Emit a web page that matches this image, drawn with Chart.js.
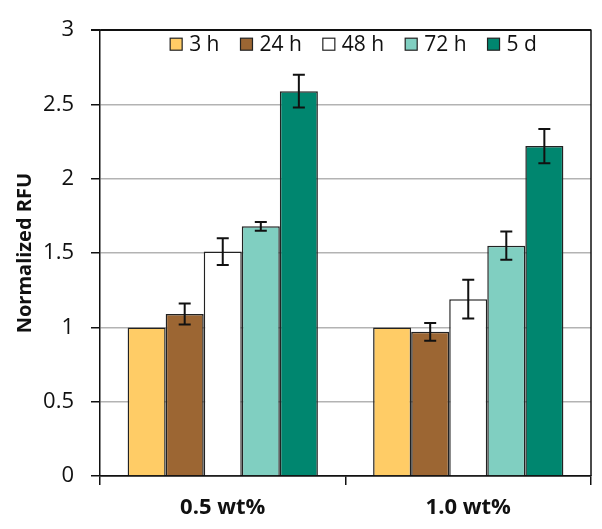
<!DOCTYPE html>
<html>
<head>
<meta charset="utf-8">
<script src="https://cdn.jsdelivr.net/npm/chart.js@4"></script>
<style>
  html, body { margin: 0; padding: 0; background: #fff; }
  canvas { display: block; }
</style>
</head>
<body>
<canvas id="rfuChart" width="602" height="529"></canvas>
<script>
// categories and series
const categories = ["0.5 wt%", "1.0 wt%"];
const seriesNames = ["3 h", "24 h", "48 h", "72 h", "5 d"];

// normalized RFU per series (one value per category)
const values3h = [1.0, 1.0];
const values24h = [1.09, 0.97];
const values48h = [1.51, 1.19];
const values72h = [1.68, 1.55];
const values5d = [2.59, 2.22];

// error bar half-widths
const err3h = [0, 0];
const err24h = [0.07, 0.06];
const err48h = [0.09, 0.13];
const err72h = [0.03, 0.095];
const err5d = [0.11, 0.115];

const yTicks = [0, 0.5, 1, 1.5, 2, 2.5, 3];

const seriesValues = [values3h, values24h, values48h, values72h, values5d];
const seriesErrors = [err3h, err24h, err48h, err72h, err5d];
const seriesColors = ["#FFCC66", "#9C6633", "#FFFFFF", "#80CFC1", "#00866F"];

const FONT = "'Open Sans', sans-serif";

// error bars drawn from the data through the y scale
const errorBars = {
  id: "errorBars",
  afterDatasetsDraw(chart) {
    const ctx = chart.ctx;
    const y = chart.scales.y;
    ctx.save();
    ctx.strokeStyle = "#111";
    ctx.lineWidth = 2;
    chart.data.datasets.forEach((ds, i) => {
      const meta = chart.getDatasetMeta(i);
      meta.data.forEach((bar, j) => {
        const e = seriesErrors[i][j];
        if (!e) return;
        const v = ds.data[j];
        const top = y.getPixelForValue(v + e);
        const bot = y.getPixelForValue(v - e);
        const cap = 6;
        ctx.beginPath();
        ctx.moveTo(bar.x, top); ctx.lineTo(bar.x, bot);
        ctx.moveTo(bar.x - cap, top); ctx.lineTo(bar.x + cap, top);
        ctx.moveTo(bar.x - cap, bot); ctx.lineTo(bar.x + cap, bot);
        ctx.stroke();
      });
    });
    ctx.restore();
  }
};

// top and right frame lines, plus the one-row legend inside the plot
const frame = {
  id: "frame",
  afterDraw(chart) {
    const a = chart.chartArea;
    const ctx = chart.ctx;
    ctx.save();
    ctx.strokeStyle = "#111";
    ctx.lineWidth = 1.5;
    ctx.beginPath();
    ctx.moveTo(a.left - 9, a.top);
    ctx.lineTo(a.right, a.top);
    ctx.lineTo(a.right, a.bottom);
    ctx.stroke();

    // legend row
    const box = 12, gap = 7, pad = 21;
    ctx.font = "21px " + FONT;
    ctx.textBaseline = "middle";
    const items = chart.data.datasets.map(ds => ({
      label: ds.label, color: ds.backgroundColor, w: ctx.measureText(ds.label).width
    }));
    let total = items.reduce((s, it) => s + box + gap + it.w, 0) + pad * (items.length - 1);
    let x = (a.left + a.right) / 2 + 8 - total / 2;
    const cy = a.top + 14;
    items.forEach(it => {
      ctx.fillStyle = it.color;
      ctx.fillRect(x, cy - box / 2, box, box);
      ctx.lineWidth = 1.2;
      ctx.strokeStyle = "#222";
      ctx.strokeRect(x, cy - box / 2, box, box);
      ctx.fillStyle = "#111";
      ctx.fillText(it.label, x + box + gap, cy + 1);
      x += box + gap + it.w + pad;
    });
    ctx.restore();
  }
};

new Chart(document.getElementById("rfuChart").getContext("2d"), {
  type: "bar",
  data: {
    labels: categories,
    datasets: seriesNames.map((name, i) => ({
      label: name,
      data: seriesValues[i],
      backgroundColor: seriesColors[i],
      borderColor: "#222",
      borderWidth: 1.5,
      barPercentage: 1,
      categoryPercentage: 0.775
    }))
  },
  options: {
    responsive: false,
    animation: false,
    devicePixelRatio: 1,
    layout: { padding: { top: 17, right: 11, left: 0, bottom: 0 } },
    plugins: {
      tooltip: { enabled: false },
      legend: { display: false }
    },
    scales: {
      x: {
        grid: {
          offset: true,
          drawOnChartArea: false,
          tickLength: 9,
          tickColor: "#111",
          lineWidth: 1.5
        },
        border: { color: "#111", width: 1.5 },
        ticks: {
          font: { family: FONT, size: 22, weight: "bold" },
          color: "#111",
          padding: 10
        },
        afterFit(scale) { scale.height = 53; }
      },
      y: {
        min: 0,
        max: 3,
        afterBuildTicks(scale) { scale.ticks = yTicks.map(v => ({ value: v })); },
        grid: {
          color: (c) => (c.tick && (c.tick.value === 0 || c.tick.value === 3)) ? "#111" : "#b3b3b3",
          lineWidth: 1.5,
          tickLength: 9,
          tickColor: "#111"
        },
        border: { color: "#111", width: 1.5 },
        ticks: {
          font: { family: FONT, size: 22 },
          color: "#111",
          padding: 17,
          callback: (v) => String(v)
        },
        title: {
          display: true,
          text: "Normalized RFU",
          font: { family: FONT, size: 20, weight: "bold" },
          color: "#111",
          padding: { top: 13, bottom: 0 }
        },
        afterFit(scale) { scale.width = 100; }
      }
    }
  },
  plugins: [errorBars, frame]
});
</script>
</body>
</html>
